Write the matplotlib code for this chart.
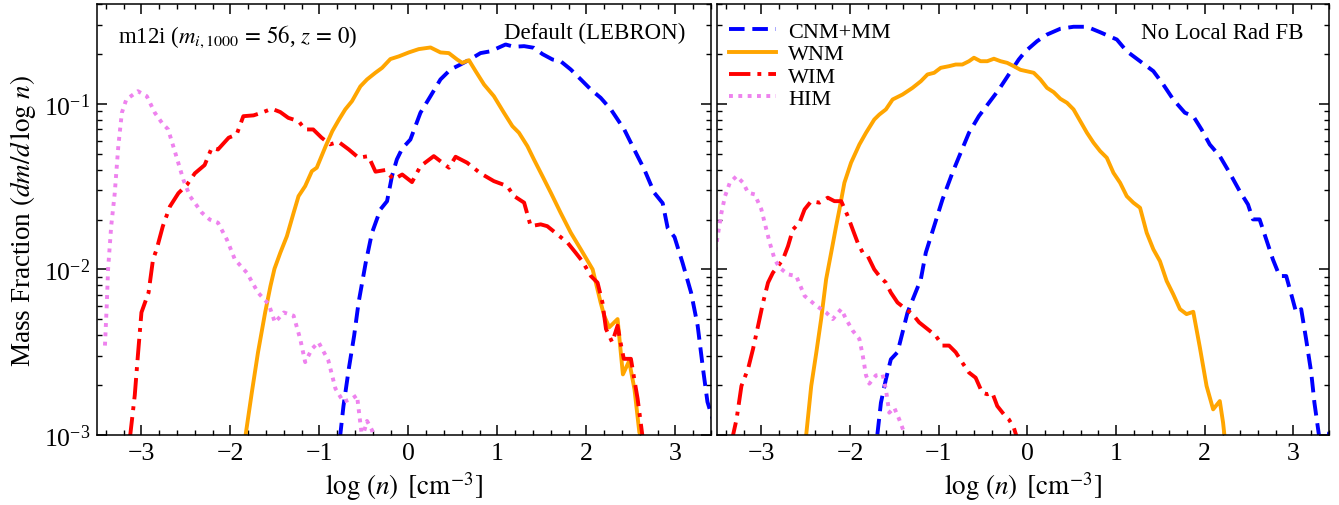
import numpy as np
import matplotlib
matplotlib.use('Agg')
import matplotlib.pyplot as plt
from matplotlib.ticker import MultipleLocator, LogLocator, NullFormatter

plt.rcParams['font.family'] = 'serif'
plt.rcParams['font.serif'] = ['Liberation Serif', 'DejaVu Serif']
plt.rcParams['mathtext.fontset'] = 'stix'

# ---- data: log10(n) and log10(mass fraction) ----
# left panel: default (LEBRON)
cnm_x_def = [-0.77, -0.73, -0.67, -0.61, -0.56, -0.48, -0.41, -0.315, -0.24, -0.185, -0.13, -0.07,
             0.022, 0.135, 0.248, 0.36, 0.473, 0.585, 0.698, 0.81, 0.923, 1.017, 1.092, 1.186, 1.30,
             1.41, 1.506, 1.62, 1.71, 1.824, 1.937, 2.05, 2.16, 2.275, 2.425, 2.537, 2.65, 2.762,
             2.857, 2.913, 2.99, 3.08, 3.176, 3.25, 3.31, 3.36, 3.42, 3.47]
cnm_y_def = [-3.02, -2.825, -2.60, -2.40, -2.20, -1.96, -1.78, -1.638, -1.588, -1.437, -1.336, -1.27,
             -1.216, -1.054, -0.954, -0.853, -0.793, -0.763, -0.73, -0.694, -0.683, -0.66, -0.642,
             -0.656, -0.652, -0.662, -0.70, -0.733, -0.743, -0.793, -0.853, -0.914, -0.964, -1.034,
             -1.155, -1.276, -1.396, -1.537, -1.60, -1.75, -1.805, -1.96, -2.14, -2.34, -2.60, -2.80,
             -2.905, -2.95]

wnm_x_def = [-1.835, -1.76, -1.69, -1.61, -1.55, -1.505, -1.44, -1.366, -1.29, -1.235, -1.16, -1.085,
             -1.03, -0.93, -0.855, -0.78, -0.71, -0.634, -0.54, -0.465, -0.372, -0.296, -0.203,
             -0.109, 0.004, 0.116, 0.248, 0.36, 0.454, 0.548, 0.605, 0.68, 0.755, 0.85, 0.96, 1.073,
             1.168, 1.242, 1.337, 1.41, 1.506, 1.60, 1.71, 1.824, 1.937, 2.07, 2.16, 2.20, 2.256,
             2.35, 2.41, 2.48, 2.54, 2.595, 2.65]
wnm_y_def = [-3.02, -2.744, -2.50, -2.26, -2.10, -1.996, -1.90, -1.80, -1.658, -1.558, -1.497, -1.407,
             -1.386, -1.256, -1.165, -1.095, -1.034, -0.984, -0.895, -0.853, -0.813, -0.783, -0.73,
             -0.714, -0.69, -0.67, -0.66, -0.69, -0.694, -0.733, -0.753, -0.737, -0.803, -0.884,
             -0.954, -1.054, -1.135, -1.175, -1.256, -1.336, -1.437, -1.537, -1.658, -1.778, -1.879,
             -2.0, -2.20, -2.28, -2.35, -2.30, -2.634, -2.553, -2.724, -2.985, -3.05]

wim_x_def = [-3.13, -3.075, -3.04, -3.0, -2.92, -2.87, -2.83, -2.76, -2.68, -2.585, -2.49, -2.40,
             -2.29, -2.21, -2.14, -2.02, -1.93, -1.855, -1.74, -1.65, -1.535, -1.44, -1.35, -1.235,
             -1.16, -1.07, -0.975, -0.88, -0.785, -0.67, -0.56, -0.45, -0.37, -0.26, -0.166, -0.07,
             0.04, 0.135, 0.285, 0.455, 0.53, 0.66, 0.81, 0.96, 1.11, 1.186, 1.30, 1.374, 1.486,
             1.56, 1.675, 1.79, 1.88, 1.956, 2.05, 2.125, 2.18, 2.22, 2.29, 2.35, 2.39, 2.42, 2.50,
             2.537, 2.575, 2.61, 2.64]
wim_y_def = [-3.02, -2.76, -2.52, -2.26, -2.14, -1.94, -1.88, -1.74, -1.62, -1.54, -1.49, -1.42,
             -1.37, -1.266, -1.276, -1.205, -1.185, -1.075, -1.07, -1.054, -1.03, -1.05, -1.085,
             -1.105, -1.155, -1.155, -1.205, -1.245, -1.23, -1.276, -1.326, -1.316, -1.41, -1.40,
             -1.457, -1.427, -1.473, -1.377, -1.316, -1.386, -1.32, -1.356, -1.42, -1.467, -1.497,
             -1.557, -1.597, -1.739, -1.728, -1.739, -1.789, -1.84, -1.90, -1.952, -2.04, -2.08,
             -2.20, -2.36, -2.44, -2.34, -2.46, -2.54, -2.54, -2.66, -2.78, -2.925, -3.05]

him_x_def = [-3.41, -3.39, -3.375, -3.34, -3.30, -3.26, -3.22, -3.17, -3.04, -2.94, -2.85, -2.77,
             -2.70, -2.62, -2.53, -2.455, -2.32, -2.23, -2.14, -2.04, -1.95, -1.816, -1.69, -1.57,
             -1.50, -1.40, -1.29, -1.216, -1.16, -1.084, -1.01, -0.90, -0.82, -0.73, -0.634, -0.578,
             -0.52, -0.465, -0.41, -0.36]
him_y_def = [-2.46, -2.22, -2.0, -1.74, -1.54, -1.256, -1.054, -0.974, -0.924, -0.954, -1.054,
             -1.115, -1.155, -1.296, -1.457, -1.558, -1.658, -1.70, -1.718, -1.82, -1.94, -2.02,
             -2.14, -2.21, -2.32, -2.26, -2.28, -2.42, -2.56, -2.48, -2.44, -2.55, -2.72, -2.80,
             -2.78, -2.76, -3.02, -2.915, -2.97, -3.1]

# right panel: no local radiative feedback
cnm_x_nofb = [-1.692, -1.652, -1.596, -1.54, -1.465, -1.408, -1.352, -1.277, -1.202, -1.146, -1.052,
              -0.958, -0.846, -0.753, -0.659, -0.547, -0.434, -0.322, -0.21, -0.098, -0.022, 0.109,
              0.221, 0.371, 0.52, 0.671, 0.82, 1.008, 1.12, 1.27, 1.42, 1.532, 1.644, 1.775, 1.87,
              1.963, 2.056, 2.169, 2.28, 2.393, 2.487, 2.543, 2.618, 2.693, 2.768, 2.843, 2.918,
              2.99, 3.03, 3.087, 3.142, 3.2, 3.236, 3.30, 3.38, 3.45]
cnm_y_nofb = [-2.996, -2.805, -2.664, -2.543, -2.50, -2.38, -2.26, -2.16, -2.06, -1.899, -1.739,
              -1.578, -1.417, -1.296, -1.175, -1.074, -0.994, -0.914, -0.823, -0.733, -0.683,
              -0.622, -0.582, -0.547, -0.535, -0.535, -0.568, -0.612, -0.683, -0.743, -0.803,
              -0.884, -0.974, -1.054, -1.075, -1.155, -1.246, -1.316, -1.417, -1.527, -1.608,
              -1.698, -1.698, -1.819, -1.94, -2.04, -2.04, -2.18, -2.26, -2.24, -2.42, -2.623,
              -2.805, -3.05, -3.05, -2.85]

wnm_x_nofb = [-2.494, -2.438, -2.38, -2.326, -2.27, -2.213, -2.157, -2.12, -2.064, -1.989, -1.895,
              -1.82, -1.727, -1.67, -1.596, -1.52, -1.408, -1.296, -1.202, -1.127, -1.052, -0.978,
              -0.884, -0.809, -0.734, -0.659, -0.603, -0.528, -0.453, -0.378, -0.303, -0.228,
              -0.154, -0.079, 0.071, 0.146, 0.221, 0.296, 0.371, 0.446, 0.52, 0.596, 0.671, 0.745,
              0.82, 0.895, 0.97, 1.045, 1.12, 1.194, 1.27, 1.345, 1.42, 1.494, 1.57, 1.644, 1.72,
              1.794, 1.87, 1.944, 2.02, 2.094, 2.169, 2.206, 2.225]
wnm_y_nofb = [-2.996, -2.704, -2.50, -2.30, -2.06, -1.899, -1.739, -1.638, -1.477, -1.356, -1.246,
              -1.175, -1.095, -1.065, -1.034, -0.974, -0.944, -0.904, -0.864, -0.823, -0.813,
              -0.783, -0.773, -0.763, -0.763, -0.743, -0.722, -0.743, -0.743, -0.728, -0.743,
              -0.753, -0.773, -0.795, -0.813, -0.853, -0.904, -0.93, -0.97, -0.994, -1.034,
              -1.105, -1.175, -1.235, -1.286, -1.326, -1.417, -1.477, -1.558, -1.597, -1.628,
              -1.779, -1.879, -1.95, -2.07, -2.15, -2.24, -2.27, -2.256, -2.47, -2.704, -2.845,
              -2.795, -2.925, -3.02]

wim_x_nofb = [-3.34, -3.28, -3.225, -3.15, -3.094, -3.037, -2.981, -2.925, -2.87, -2.813, -2.757,
              -2.70, -2.644, -2.57, -2.513, -2.438, -2.345, -2.251, -2.176, -2.10, -2.026, -1.97,
              -1.914, -1.857, -1.80, -1.727, -1.67, -1.596, -1.54, -1.465, -1.37, -1.296, -1.221,
              -1.127, -1.034, -0.958, -0.884, -0.809, -0.734, -0.659, -0.584, -0.51, -0.453,
              -0.397, -0.34, -0.266, -0.21, -0.154, -0.116]
wim_y_nofb = [-3.05, -2.905, -2.704, -2.60, -2.48, -2.34, -2.20, -2.08, -2.02, -1.98, -1.94, -1.86,
              -1.759, -1.718, -1.638, -1.588, -1.597, -1.567, -1.588, -1.588, -1.678, -1.759,
              -1.839, -1.899, -1.92, -2.0, -2.04, -2.08, -2.14, -2.20, -2.24, -2.27, -2.32, -2.36,
              -2.40, -2.46, -2.46, -2.50, -2.563, -2.623, -2.654, -2.744, -2.754, -2.744, -2.825,
              -2.875, -2.905, -2.955, -3.02]

him_x_nofb = [-3.55, -3.487, -3.45, -3.41, -3.356, -3.28, -3.206, -3.15, -3.075, -3.0, -2.944,
              -2.906, -2.85, -2.794, -2.70, -2.607, -2.513, -2.38, -2.27, -2.195, -2.10, -2.045,
              -1.97, -1.895, -1.857, -1.82, -1.783, -1.708, -1.633, -1.596, -1.558, -1.502, -1.446,
              -1.39, -1.35]
him_y_nofb = [-2.0, -1.779, -1.658, -1.558, -1.477, -1.437, -1.477, -1.537, -1.547, -1.638, -1.759,
              -1.839, -1.94, -1.99, -2.03, -2.04, -2.16, -2.22, -2.26, -2.30, -2.24, -2.30, -2.37,
              -2.42, -2.52, -2.64, -2.69, -2.64, -2.634, -2.724, -2.865, -2.835, -2.905, -2.985,
              -3.05]

phase_labels = ['CNM+MM', 'WNM', 'WIM', 'HIM']
panel_titles = ['Default (LEBRON)', 'No Local Rad FB']

# styles for each phase
colors = ['blue', 'orange', 'red', 'violet']
dashes = [(4, 2), (None, None), (5.5, 1.8, 1, 1.8), (1, 1.4)]
lw = 2.8

panels = [
    [(cnm_x_def, cnm_y_def), (wnm_x_def, wnm_y_def), (wim_x_def, wim_y_def), (him_x_def, him_y_def)],
    [(cnm_x_nofb, cnm_y_nofb), (wnm_x_nofb, wnm_y_nofb), (wim_x_nofb, wim_y_nofb), (him_x_nofb, him_y_nofb)],
]

fig = plt.figure(figsize=(13.39, 5.06), dpi=100)
ax1 = fig.add_axes([0.0724, 0.1383, 0.4586, 0.8517])
ax2 = fig.add_axes([0.5355, 0.1383, 0.4570, 0.8517], sharey=ax1)
axes = [ax1, ax2]

for ax, curves, title in zip(axes, panels, panel_titles):
    for (xs, ys), c, d, lab in zip(curves, colors, dashes, phase_labels):
        line, = ax.plot(xs, 10**np.array(ys), color=c, lw=lw, label=lab)
        if d[0] is not None:
            line.set_dashes(d)
    ax.set_yscale('log')
    ax.set_xlim(-3.5, 3.4)
    ax.set_ylim(1e-3, 0.4)
    ax.xaxis.set_major_locator(MultipleLocator(1))
    ax.xaxis.set_minor_locator(MultipleLocator(0.2))
    ax.yaxis.set_minor_locator(LogLocator(base=10, subs=np.arange(2, 10)))
    ax.yaxis.set_minor_formatter(NullFormatter())
    ax.tick_params(which='both', direction='in', top=True, right=True, labelsize=18.5)
    ax.tick_params(which='major', length=7, width=1.1, pad=5)
    ax.tick_params(which='minor', length=3.5, width=1.0)
    for sp in ax.spines.values():
        sp.set_linewidth(1.1)
    ax.set_xlabel(r'$\log\,(n)$ $\,[\mathrm{cm}^{-3}]$', fontsize=19.5, labelpad=4)
    ax.text(0.958, 0.958, title, transform=ax.transAxes, ha='right', va='top', fontsize=16.5)

ax2.tick_params(labelleft=False)
ax1.set_ylabel(r'Mass Fraction $(dm/d\,\log\,n)$', fontsize=19.5, labelpad=4)
ax1.text(0.035, 0.958, r'm12i ($m_{i,1000}\,=\,56$, $z\,=\,0$)', transform=ax1.transAxes,
         ha='left', va='top', fontsize=16.5)

ax2.legend(loc='upper left', bbox_to_anchor=(0.0, 0.988), frameon=False, fontsize=16,
           handlelength=2.1, labelspacing=0.08, handletextpad=0.55, borderaxespad=0.25,
           borderpad=0.3)

fig.savefig('out.png', dpi=100)
